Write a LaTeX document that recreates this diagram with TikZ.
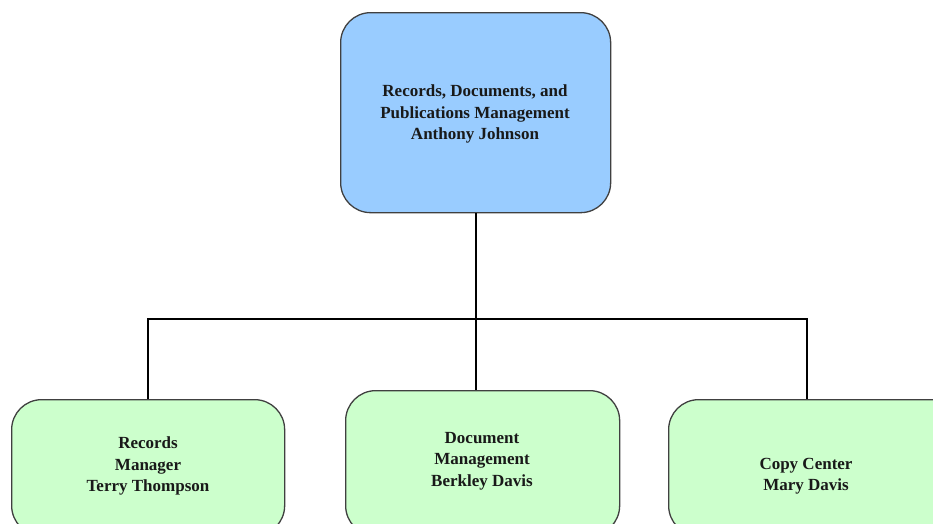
\documentclass[tikz,border=0pt]{standalone}
\usepackage{fontspec}
\setmainfont{Liberation Serif}
\begin{document}
\begin{tikzpicture}[x=1pt,y=-1pt,
  box/.style={draw=black!75, line width=1.3pt, rounded corners=30pt, inner sep=0pt, anchor=north west},
  headbox/.style={box, fill=headblue},
  unitbox/.style={box, fill=unitgreen},
  label/.style={font=\fontsize{17}{21.5}\selectfont\bfseries, align=center, text=black!90, inner sep=0pt},
  link/.style={line width=2pt, black}]
\definecolor{headblue}{HTML}{99CCFF}
\definecolor{unitgreen}{HTML}{CCFFCC}
\useasboundingbox (0,0) rectangle (933,523);

% boxes (the lower row runs past the bottom edge of the page)
\node[headbox, minimum width=270pt, minimum height=200pt] (head) at (340,12) {};
\node[unitbox, minimum width=273pt, minimum height=136pt] (rec) at (11,399) {};
\node[unitbox, minimum width=274pt, minimum height=145pt] (doc) at (345,390) {};
\node[unitbox, minimum width=292pt, minimum height=136pt] (copy) at (668,399) {};

% texts
\node[label] (headtxt) at (475,114) {Records, Documents, and\\Publications Management\\Anthony Johnson};
\node[label] (rectxt) at (148,466) {Records\\Manager\\Terry Thompson};
\node[label] (doctxt) at (482,461) {Document\\Management\\Berkley Davis};
\node[label] (copytxt) at (806,476) {Copy Center\\Mary Davis};

% connectors
\coordinate (bus) at (476,319);
\coordinate (busL) at (148,319);
\coordinate (busR) at (807,319);
\draw[link] (head.south -| bus) -- (bus);
\draw[link] (rec.north -| busL) |- (busR) -- (copy.north -| busR);
\draw[link] (bus) -- (doc.north -| bus);
\end{tikzpicture}
\end{document}
